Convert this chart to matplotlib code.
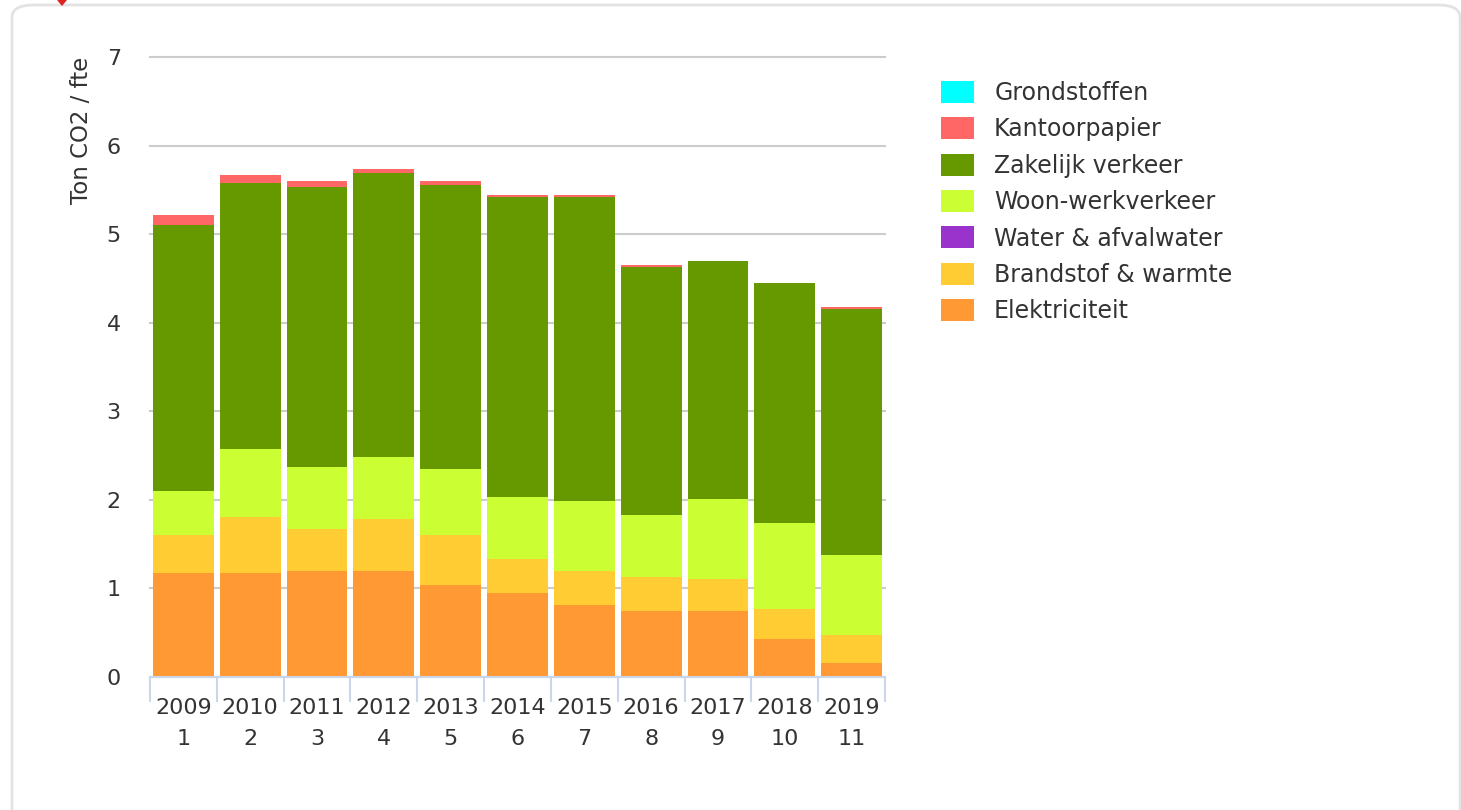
import matplotlib
matplotlib.use("Agg")
import matplotlib.pyplot as plt
from matplotlib.patches import Patch, FancyBboxPatch, Polygon
import numpy as np

plt.rcParams['font.family'] = ['DejaVu Sans']

years = ['2009', '2010', '2011', '2012', '2013', '2014', '2015', '2016', '2017', '2018', '2019']
numbers = ['1', '2', '3', '4', '5', '6', '7', '8', '9', '10', '11']

elektriciteit = [1.17, 1.17, 1.20, 1.20, 1.04, 0.95, 0.81, 0.745, 0.745, 0.43, 0.16]
brandstof = [0.43, 0.64, 0.47, 0.58, 0.56, 0.38, 0.39, 0.385, 0.365, 0.34, 0.31]
water = [0, 0, 0, 0, 0, 0, 0, 0, 0, 0, 0]
woonwerk = [0.50, 0.76, 0.70, 0.70, 0.75, 0.70, 0.79, 0.70, 0.90, 0.97, 0.91]
zakelijk = [3.00, 3.01, 3.16, 3.21, 3.20, 3.39, 3.43, 2.80, 2.69, 2.71, 2.77]
kantoorpapier = [0.115, 0.09, 0.07, 0.04, 0.05, 0.02, 0.02, 0.02, 0.0, 0.0, 0.03]
grondstoffen = [0, 0, 0, 0, 0, 0, 0, 0, 0, 0, 0]

series = [
    ('Elektriciteit', elektriciteit, '#FF9933'),
    ('Brandstof & warmte', brandstof, '#FFCC33'),
    ('Water & afvalwater', water, '#9933CC'),
    ('Woon-werkverkeer', woonwerk, '#CCFF33'),
    ('Zakelijk verkeer', zakelijk, '#669900'),
    ('Kantoorpapier', kantoorpapier, '#FF6666'),
    ('Grondstoffen', grondstoffen, '#00FFFF'),
]

W, H = 1461, 810
fig = plt.figure(figsize=(W / 100, H / 100), dpi=100)
fig.patch.set_facecolor('white')

# rounded frame
frame = FancyBboxPatch((12 / W, -30 / H), (1448) / W, (805 + 30) / H,
                       boxstyle="round,pad=0,rounding_size=0.015",
                       transform=fig.transFigure, facecolor='none',
                       edgecolor='#e3e3e3', linewidth=2, zorder=0)
fig.add_artist(frame)
# small red marker at top-left (partly cut off as in the original)
marker = Polygon([(57 / W, 1.0), (67 / W, 1.0), (62 / W, 1 - 6 / H)], closed=True,
                 transform=fig.transFigure, facecolor='#dd2222', edgecolor='none')
fig.add_artist(marker)

ax = fig.add_axes([150 / W, 1 - 677 / H, 735 / W, (677 - 57) / H])
x = np.arange(len(years))
bottom = np.zeros(len(years))
for name, vals, col in series:
    v = np.array(vals, dtype=float)
    ax.bar(x, v, width=0.91, bottom=bottom, color=col, linewidth=0, zorder=3)
    bottom += v

ax.set_xlim(-0.5, len(years) - 0.5)
ax.set_ylim(0, 7)
ax.set_yticks(range(0, 8))
ax.yaxis.grid(True, color='#cccccc', linewidth=1.5, zorder=0)
for gl in ax.get_ygridlines():
    gl.set_clip_on(False)
ax.set_axisbelow(True)
for s in ['top', 'right', 'left']:
    ax.spines[s].set_visible(False)
ax.spines['bottom'].set_color('#ccd6eb')
ax.spines['bottom'].set_linewidth(1.5)
ax.spines['bottom'].set_zorder(4)

ax.tick_params(axis='y', length=0, pad=21, labelsize=16, labelcolor='#333333')
ax.set_xticks(x)
ax.set_xticklabels([f'{y}\n{n}' for y, n in zip(years, numbers)], linespacing=1.7)
ax.tick_params(axis='x', length=0, pad=15, labelsize=16, labelcolor='#333333')
ax.set_xticks(np.arange(-0.5, len(years), 1.0), minor=True)
ax.tick_params(axis='x', which='minor', length=18, width=1.5, color='#ccd6eb')

fig.text(82 / W, 1 - 57 / H, 'Ton CO2 / fte', rotation=90, ha='center', va='top',
         fontsize=16.5, color='#333333')

handles = [Patch(facecolor=col, edgecolor='none', label=name) for name, vals, col in reversed(series)]
leg = fig.legend(handles=handles, loc='upper left', bbox_to_anchor=(941 / W, 1 - 81 / H),
                 frameon=False, fontsize=17, handlelength=1.4, handleheight=1.06,
                 handletextpad=0.85, labelspacing=0.52, borderpad=0, borderaxespad=0)
for t in leg.get_texts():
    t.set_color('#333333')

fig.savefig('out.png', dpi=100, facecolor='white')
